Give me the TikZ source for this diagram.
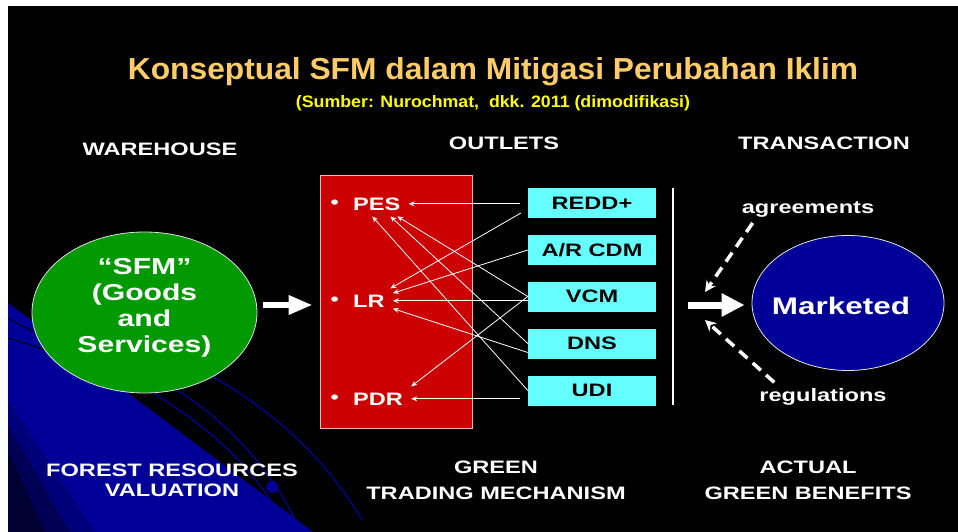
\documentclass[tikz,border=0pt]{standalone}
\usepackage{graphicx}
\usepackage{fontspec}
\setmainfont{Liberation Sans}
\newfontfamily\widefont[FakeStretch=1.31]{Liberation Sans}
\usetikzlibrary{arrows.meta,shapes.geometric}
\definecolor{titleorange}{HTML}{FFCC66}
\definecolor{subyellow}{HTML}{FFFF00}
\definecolor{sfmgreen}{HTML}{009900}
\definecolor{outred}{HTML}{CC0000}
\definecolor{outcyan}{HTML}{66FFFF}
\definecolor{mktblue}{HTML}{000099}
\definecolor{bgblue}{HTML}{000099}
\begin{document}
\begin{tikzpicture}[x=1pt,y=-1pt,
  hdr/.style={text=white,inner sep=0pt,align=center,font=\widefont\bfseries\fontsize{18}{20}\selectfont},
  outitem/.style={text=white,anchor=base west,inner xsep=8pt,inner ysep=6pt,
    font=\widefont\bfseries\fontsize{18}{20}\selectfont,
    label={[text=white,inner sep=0pt,label distance=6pt,font=\widefont\bfseries\fontsize{18}{20}\selectfont]left:•}},
  outlet/.style={fill=outcyan,minimum width=128pt,minimum height=30pt,inner sep=0pt,
    font=\widefont\bfseries\fontsize{18}{20}\selectfont},
  link/.style={draw=white,line width=0.8pt,-{Stealth[length=6pt,width=5pt]}},
  bigarrow/.style={draw=white,line width=6pt,-{Triangle[length=24pt,width=18pt]}},
  dasharrow/.style={draw=white,line width=3.5pt,dash pattern=on 11pt off 7pt,-{Stealth[length=11pt,width=11pt]}}]
\useasboundingbox (0,0) rectangle (958,532);
% slide background
\fill[white] (0,0) rectangle (958,532);
\fill[black] (8,6) rectangle (958,532);
\fill[bgblue] (8,303) -- (313,532) -- (8,532) -- cycle;
\fill[black,opacity=0.2] (8,400) -- (95,532) -- (8,532) -- cycle;
\fill[black,opacity=0.3] (8,425) -- (70,532) -- (8,532) -- cycle;
\fill[black,opacity=0.4] (8,450) -- (45,532) -- (8,532) -- cycle;
\draw[black,line width=1pt] (8,318) .. controls (25,328) .. (52,338);
\draw[black,line width=1pt] (8,338) .. controls (28,344) .. (52,353);
\draw[bgblue,line width=1.2pt] (153,393) .. controls (230,440) and (270,490) .. (287,532);
\draw[bgblue,line width=1.2pt] (177,390) .. controls (240,430) and (285,490) .. (300,532);
\draw[bgblue,line width=1.2pt] (213,377) .. controls (280,415) and (330,465) .. (362,520);
\fill[bgblue] (272,487) circle (6);
% title
\node[anchor=base,text=titleorange,inner sep=0pt] (title) at (493,80)
  {\resizebox{730pt}{22pt}{\bfseries Konseptual SFM dalam Mitigasi Perubahan Iklim}};
\node[anchor=base,text=subyellow,inner sep=0pt] (source) at (493,108)
  {\resizebox{394pt}{12pt}{\bfseries (Sumber: Nurochmat,\ \ dkk. 2011 (dimodifikasi)}};
% column heads
\node[hdr] (warehouse) at (160,149.5) {WAREHOUSE};
\node[hdr] (outlets) at (504,143) {OUTLETS};
\node[hdr] (transaction) at (824,143) {TRANSACTION};
% warehouse
\node[ellipse,fill=sfmgreen,draw=white!75!gray,line width=0.8pt,minimum width=225pt,minimum height=161pt,inner sep=0pt] (sfm) at (144.5,312.5) {};
\node[text=white,inner sep=0pt,align=center,font=\widefont\bfseries\fontsize{23}{26}\selectfont] (sfmtext) at (144.5,308)
  {“SFM”\\(Goods\\and\\Services)};
% outlets
\node[draw=red!30!white,fill=outred,line width=0.6pt,minimum width=152pt,minimum height=253pt,inner sep=0pt] (outbox) at (396,301.5) {};
\node[outitem] (pes) at (345,210) {PES};
\node[outitem] (lr) at (345,307) {LR};
\node[outitem] (pdr) at (345,405) {PDR};
\node[outlet] (redd) at (592,203) {REDD+};
\node[outlet] (ar) at (592,250) {A/R CDM};
\node[outlet] (vcm) at (592,296.5) {VCM};
\node[outlet] (dns) at (592,343.5) {DNS};
\node[outlet] (udi) at (592,390.5) {UDI};
\path[link,shorten <=8pt] (pes.east -| redd.west) -- (pes.east);
\path[link,shorten <=8pt] ([yshift=-6]redd.west) -- (lr);
\path[link] (ar.west) -- (lr);
\path[link] (vcm.west) -- (pes);
\path[link] (lr.east -| vcm.west) -- (lr.east);
\path[link] (vcm.west) -- (pdr.north east);
\path[link] (dns.west) -- (pes);
\path[link] ([yshift=-9]dns.west) -- (lr);
\path[link] (udi.west) -- (pes.250);
\path[link,shorten <=8pt] (pdr.east -| udi.west) -- (pdr.east);
\coordinate (sfmout) at (263,305);
\path[bigarrow,shorten >=7pt] (sfmout) -- (sfmout -| outbox.west);
% transaction
\path[draw=white,line width=1.8pt] (673,188) -- (673,405);
\node[ellipse,fill=mktblue,draw=white!80!gray,line width=0.8pt,minimum width=192pt,minimum height=135pt,inner sep=0pt] (mkt) at (848,303) {};
\node[text=white,inner sep=0pt,font=\widefont\bfseries\fontsize{24}{28}\selectfont] (mkttext) at (841,306) {Marketed};
\coordinate (mktin) at (688,305);
\path[bigarrow,line width=7pt,-{Triangle[length=23pt,width=22pt]},shorten >=7pt] (mktin) -- (mktin -| mkt.west);
\node[hdr] (agr) at (808,210) {agreements};
\node[hdr] (reg) at (823,397) {regulations};
\coordinate (agrtip) at (705,292);
\coordinate (regtip) at (705,320);
\path[dasharrow] ([xshift=11,yshift=-5]agr.south west) -- (agrtip);
\path[dasharrow] ([xshift=15,yshift=6]reg.north west) -- (regtip);
% bottom captions
\node[hdr,font=\widefont\bfseries\fontsize{18}{20}\selectfont] (valuation) at (172,480.5) {FOREST RESOURCES\\VALUATION};
\node[hdr,font=\widefont\bfseries\fontsize{18}{26}\selectfont] (trading) at (496,480.5) {GREEN\\TRADING MECHANISM};
\node[hdr,font=\widefont\bfseries\fontsize{18}{26}\selectfont] (benefits) at (808,480.5) {ACTUAL\\GREEN BENEFITS};
\end{tikzpicture}
\end{document}
